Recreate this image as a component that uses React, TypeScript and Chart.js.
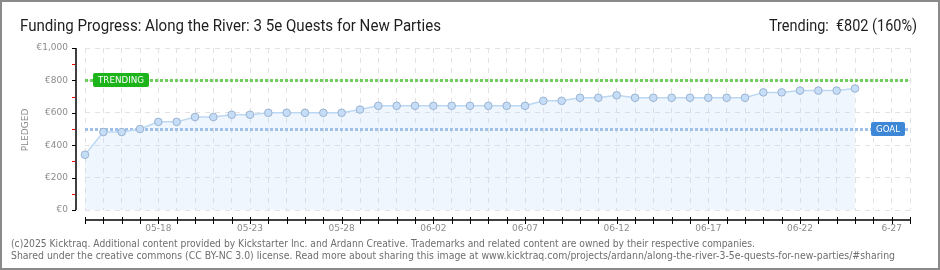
import React, { useEffect, useRef } from "react";
import { Chart, registerables } from "chart.js";

Chart.register(...registerables);

// ---- data ----
const titleText = "Funding Progress: Along the River: 3 5e Quests for New Parties";
const trendingText = "Trending:  €802 (160%)";
const footerLines = [
  "(c)2025 Kicktraq. Additional content provided by Kickstarter Inc. and Ardann Creative. Trademarks and related content are owned by their respective companies.",
  "Shared under the creative commons (CC BY-NC 3.0) license. Read more about sharing this image at www.kicktraq.com/projects/ardann/along-the-river-3-5e-quests-for-new-parties/#sharing",
];

const dates = [
  "05-14", "05-15", "05-16", "05-17", "05-18", "05-19", "05-20", "05-21", "05-22", "05-23",
  "05-24", "05-25", "05-26", "05-27", "05-28", "05-29", "05-30", "05-31", "06-01", "06-02",
  "06-03", "06-04", "06-05", "06-06", "06-07", "06-08", "06-09", "06-10", "06-11", "06-12",
  "06-13", "06-14", "06-15", "06-16", "06-17", "06-18", "06-19", "06-20", "06-21", "06-22",
  "06-23", "06-24", "06-25", "06-26", "06-27", "06-28",
];

const pledged = [
  341, 481, 481, 500, 544, 544, 574, 574, 588, 588,
  600, 600, 600, 600, 600, 620, 643, 643, 643, 643,
  643, 643, 643, 643, 643, 674, 674, 693, 693, 708,
  693, 693, 693, 693, 693, 693, 693, 726, 726, 737,
  737, 737, 750,
];

const xTickLabels = ["05-18", "05-23", "05-28", "06-02", "06-07", "06-12", "06-17", "06-22", "6-27"];
const yTickValues = [0, 200, 400, 600, 800, 1000];
const yMinorValues = [100, 300, 500, 700, 900];

const goalValue = 500;
const trendingValue = 802;

// ---- helpers ----
function fitText(ctx: CanvasRenderingContext2D, text: string, x: number, y: number, width: number, align: "left" | "right") {
  const w = ctx.measureText(text).width;
  const s = width / w;
  ctx.save();
  ctx.translate(align === "left" ? x : x - width, y);
  ctx.scale(s, 1);
  ctx.textAlign = "left";
  ctx.fillText(text, 0, 0);
  ctx.restore();
}

function labelBox(ctx: CanvasRenderingContext2D, x: number, yMid: number, w: number, h: number, fill: string, text: string) {
  ctx.save();
  ctx.fillStyle = fill;
  const y = yMid - h / 2;
  const r = 2;
  ctx.beginPath();
  ctx.moveTo(x + r, y);
  ctx.lineTo(x + w - r, y);
  ctx.quadraticCurveTo(x + w, y, x + w, y + r);
  ctx.lineTo(x + w, y + h - r);
  ctx.quadraticCurveTo(x + w, y + h, x + w - r, y + h);
  ctx.lineTo(x + r, y + h);
  ctx.quadraticCurveTo(x, y + h, x, y + h - r);
  ctx.lineTo(x, y + r);
  ctx.quadraticCurveTo(x, y, x + r, y);
  ctx.fill();
  ctx.fillStyle = "#ffffff";
  ctx.font = '9px "DejaVu Sans"';
  ctx.textBaseline = "middle";
  ctx.textAlign = "left";
  fitText(ctx, text, x + 5, yMid + 0.5, w - 10, "left");
  ctx.restore();
}

const decorPlugin = {
  id: "decor",
  beforeDraw(chart: any) {
    const ctx = chart.ctx as CanvasRenderingContext2D;
    ctx.save();
    ctx.fillStyle = "#ffffff";
    ctx.fillRect(0, 0, chart.width, chart.height);
    // title
    ctx.fillStyle = "#1e1e1e";
    ctx.textBaseline = "alphabetic";
    ctx.font = '16px Roboto';
    fitText(ctx, titleText, 20, 31, 421, "left");
    fitText(ctx, trendingText, 917, 31, 148, "right");
    // footer
    ctx.fillStyle = "#6e6e6e";
    ctx.font = '10px "DejaVu Sans"';
    fitText(ctx, footerLines[0], 11, 247, 744, "left");
    fitText(ctx, footerLines[1], 11, 259, 884, "left");
    // PLEDGED
    ctx.save();
    ctx.translate(28, 130);
    ctx.rotate(-Math.PI / 2);
    ctx.font = '9px "DejaVu Sans"';
    ctx.fillStyle = "#8a8a8a";
    ctx.textAlign = "center";
    ctx.fillText("PLEDGED", 0, 0);
    ctx.restore();
    // border
    ctx.strokeStyle = "#8a8a8a";
    ctx.lineWidth = 2;
    ctx.strokeRect(1, 1, chart.width - 2, chart.height - 2);
    ctx.restore();
  },
  beforeDatasetsDraw(chart: any) {
    const ctx = chart.ctx as CanvasRenderingContext2D;
    const { left, right } = chart.chartArea;
    const y = chart.scales.y;
    ctx.save();
    ctx.lineWidth = 3;
    ctx.setLineDash([3, 2]);
    ctx.strokeStyle = "#6fcf5c";
    const ty = Math.round(y.getPixelForValue(trendingValue)) + 0.5;
    ctx.beginPath();
    ctx.moveTo(left, ty);
    ctx.lineTo(right, ty);
    ctx.stroke();
    ctx.strokeStyle = "#9fc0e8";
    const gy = Math.round(y.getPixelForValue(goalValue)) + 0.5;
    ctx.beginPath();
    ctx.moveTo(left, gy);
    ctx.lineTo(right, gy);
    ctx.stroke();
    ctx.restore();
  },
  afterDraw(chart: any) {
    const ctx = chart.ctx as CanvasRenderingContext2D;
    const { left, right, top, bottom } = chart.chartArea;
    const ys = chart.scales.y;
    const xs = chart.scales.x;
    ctx.save();
    // y axis
    const ax = left - 9;
    ctx.strokeStyle = "#000000";
    ctx.lineWidth = 1.5;
    ctx.beginPath();
    ctx.moveTo(ax, top);
    ctx.lineTo(ax, bottom);
    ctx.stroke();
    ctx.lineWidth = 1;
    for (const v of yTickValues) {
      const p = Math.round(ys.getPixelForValue(v)) + 0.5;
      ctx.strokeStyle = "#000000";
      ctx.beginPath();
      ctx.moveTo(ax - 4, p);
      ctx.lineTo(ax, p);
      ctx.stroke();
    }
    for (const v of yMinorValues) {
      const p = Math.round(ys.getPixelForValue(v)) + 0.5;
      ctx.strokeStyle = "#ff0000";
      ctx.beginPath();
      ctx.moveTo(ax - 4, p);
      ctx.lineTo(ax - 1, p);
      ctx.stroke();
    }
    // x axis
    const ay = bottom + 10;
    ctx.strokeStyle = "#000000";
    ctx.lineWidth = 1.5;
    ctx.beginPath();
    ctx.moveTo(left, ay);
    ctx.lineTo(right, ay);
    ctx.stroke();
    ctx.lineWidth = 1;
    for (let i = 0; i < dates.length; i++) {
      const p = Math.round(xs.getPixelForValue(i)) + 0.5;
      ctx.beginPath();
      ctx.moveTo(p, ay - 3);
      ctx.lineTo(p, ay + 4);
      ctx.stroke();
    }
    // labels
    labelBox(ctx, left + 8, ys.getPixelForValue(trendingValue), 56, 14, "#1db31a", "TRENDING");
    labelBox(ctx, right - 39, ys.getPixelForValue(goalValue), 34, 14, "#3d87d6", "GOAL");
    ctx.restore();
  },
};

export default function App() {
  const ref = useRef<HTMLCanvasElement | null>(null);

  useEffect(() => {
    document.body.style.margin = "0";
    const canvas = ref.current;
    if (!canvas) return;
    const chart = new Chart(canvas, {
      type: "line",
      data: {
        labels: dates,
        datasets: [
          {
            data: pledged,
            borderColor: "#bcd7f3",
            borderWidth: 1.5,
            backgroundColor: "rgba(180, 212, 245, 0.22)",
            fill: "origin",
            tension: 0,
            pointRadius: 3.8,
            pointBackgroundColor: "#c6ddf7",
            pointBorderColor: "#9ab3d1",
            pointBorderWidth: 1,
          },
        ],
      },
      options: {
        animation: false,
        responsive: false,
        devicePixelRatio: 1,
        layout: { padding: { top: 48, right: 30, left: 0, bottom: 0 } },
        plugins: {
          legend: { display: false },
          tooltip: { enabled: false },
          filler: { drawTime: "beforeDatasetsDraw" },
        } as any,
        scales: {
          x: {
            type: "category",
            offset: false,
            grid: { color: "#e2e2e2", lineWidth: 1, drawTicks: false },
            border: { display: false, dash: [5, 5] },
            ticks: {
              autoSkip: false,
              maxRotation: 0,
              minRotation: 0,
              padding: 13,
              color: "#8c8c8c",
              font: { family: "DejaVu Sans", size: 9 },
              callback: (_v: any, index: number) => {
                const d = dates[index];
                const lab = xTickLabels.find((t) => (t.length === 5 ? d === t : d.endsWith(t)));
                return lab ?? "";
              },
            },
            afterFit: (scale: any) => {
              scale.height = 60;
            },
          },
          y: {
            min: 0,
            max: 1000,
            grid: { color: "#e2e2e2", lineWidth: 1, drawTicks: false },
            border: { display: false, dash: [5, 5] },
            ticks: {
              stepSize: 200,
              padding: 17,
              color: "#8c8c8c",
              font: { family: "DejaVu Sans", size: 9 },
              callback: (v: any) => "€" + Number(v).toLocaleString("en-US"),
            },
            afterFit: (scale: any) => {
              scale.width = 85;
            },
          },
        },
      } as any,
      plugins: [decorPlugin],
    });
    return () => chart.destroy();
  }, []);

  return <canvas ref={ref} width={940} height={270} style={{ display: "block" }} />;
}
